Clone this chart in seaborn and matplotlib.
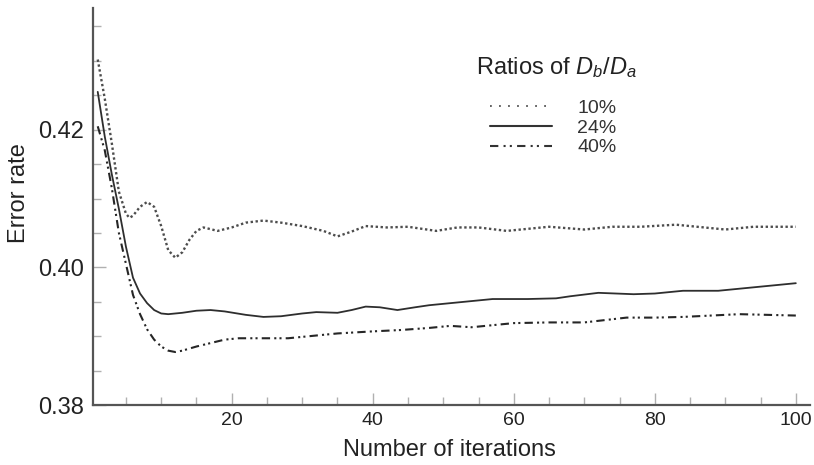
import matplotlib
matplotlib.use("Agg")
import matplotlib.pyplot as plt
from matplotlib.lines import Line2D
from matplotlib.ticker import MultipleLocator
import seaborn as sns
import pandas as pd

# Error rate against number of iterations for three ratios of D_b/D_a
iter_10 = [1, 2, 3, 4, 5, 5.5, 6, 7, 8, 9, 10, 11, 12, 13, 14, 15, 16, 18, 20, 22,
           24.5, 27, 30, 33, 35, 37, 39, 42, 45, 49, 52, 55, 59, 62, 65, 70, 74,
           78, 83, 87, 90, 94, 100]
err_10 = [0.4302, 0.4245, 0.4180, 0.4110, 0.4078, 0.4072, 0.4075, 0.4088, 0.4095,
          0.4088, 0.4060, 0.4025, 0.4014, 0.4022, 0.4040, 0.4053, 0.4058, 0.4053,
          0.4058, 0.4065, 0.4068, 0.4065, 0.4060, 0.4053, 0.4045, 0.4052, 0.4060,
          0.4058, 0.4059, 0.4053, 0.4058, 0.4058, 0.4053, 0.4056, 0.4059, 0.4055,
          0.4059, 0.4059, 0.4062, 0.4058, 0.4055, 0.4059, 0.4059]

iter_24 = [1, 2, 3, 4, 5, 6, 7, 8, 9, 10, 11, 13, 15, 17, 19, 22, 24.5, 27, 30, 32,
           35, 37, 39, 41, 43.5, 46, 48, 52, 57, 62, 66, 68, 72, 77, 80, 84, 89,
           94, 100]
err_24 = [0.4255, 0.4190, 0.4135, 0.4085, 0.4030, 0.3985, 0.3962, 0.3948, 0.3938,
          0.3933, 0.3932, 0.3934, 0.3937, 0.3938, 0.3936, 0.3931, 0.3928, 0.3929,
          0.3933, 0.3935, 0.3934, 0.3938, 0.3943, 0.3942, 0.3938, 0.3942, 0.3945,
          0.3949, 0.3954, 0.3954, 0.3955, 0.3958, 0.3963, 0.3961, 0.3962, 0.3966,
          0.3966, 0.3971, 0.3977]

iter_40 = [1, 2, 3, 4, 5, 6, 7, 8, 9, 10, 11, 12, 13, 15, 17, 19, 21, 25, 28, 31,
           35, 40, 44, 48, 51, 54, 60, 65, 70, 76, 80, 84, 88, 92, 100]
err_40 = [0.4205, 0.4170, 0.4115, 0.4050, 0.4005, 0.3960, 0.3932, 0.3910, 0.3895,
          0.3885, 0.3879, 0.3877, 0.3879, 0.3885, 0.3890, 0.3895, 0.3897, 0.3897,
          0.3897, 0.3900, 0.3904, 0.3907, 0.3909, 0.3912, 0.3915, 0.3913, 0.3919,
          0.3920, 0.3920, 0.3927, 0.3927, 0.3928, 0.3930, 0.3932, 0.3930]

labels = ["10%", "24%", "40%"]

sns.set_theme(style="ticks")
plt.rcParams["font.family"] = ["Liberation Sans", "DejaVu Sans"]
plt.rcParams["mathtext.fontset"] = "custom"
plt.rcParams["mathtext.it"] = "Liberation Sans:italic"
plt.rcParams["mathtext.rm"] = "Liberation Sans"

fig = plt.figure(figsize=(8.14, 4.65), dpi=100)
ax = fig.add_axes([0.114, 0.129, 0.881, 0.854])

series = [
    (iter_10, err_10, labels[0], dict(color="#4d4d4d", lw=1.7, linestyle=(0, (1, 1.1)))),
    (iter_24, err_24, labels[1], dict(color="#2e2e2e", lw=1.3, linestyle="-")),
    (iter_40, err_40, labels[2], dict(color="#262626", lw=1.5,
                                      linestyle=(0, (4, 2, 1, 1.5, 1, 2)))),
]
for xs, ys, lab, style in series:
    df = pd.DataFrame({"iteration": xs, "error": ys})
    sns.lineplot(data=df, x="iteration", y="error", ax=ax, legend=False, **style)

ax.set_xlim(0.3, 102)
ax.set_ylim(0.38, 0.4377)
ax.xaxis.set_major_locator(MultipleLocator(20))
ax.xaxis.set_minor_locator(MultipleLocator(5))
ax.yaxis.set_major_locator(MultipleLocator(0.02))
ax.yaxis.set_minor_locator(MultipleLocator(0.005))
ax.set_xticks([20, 40, 60, 80, 100])
ax.set_yticks([0.38, 0.40, 0.42])
ax.set_yticklabels(["0.38", "0.40", "0.42"])

for t in ax.get_xticklabels():
    t.set_fontsize(14)
    t.set_color("#222222")
for t in ax.get_yticklabels():
    t.set_fontsize(17)
    t.set_color("#222222")

ax.tick_params(axis="both", which="both", direction="in", color="#b0b0b0")
ax.tick_params(axis="both", which="major", length=9, width=1)
ax.tick_params(axis="both", which="minor", length=6, width=1)
ax.tick_params(axis="x", pad=5)
ax.tick_params(axis="y", pad=6)

for side in ("top", "right"):
    ax.spines[side].set_visible(False)
for side in ("left", "bottom"):
    ax.spines[side].set_color("#555555")
    ax.spines[side].set_linewidth(1.6)

ax.set_xlabel("Number of iterations", fontsize=17, color="#222222")
ax.xaxis.set_label_coords(0.497, -0.086)
ax.set_ylabel("Error rate", fontsize=17, color="#222222")
ax.yaxis.set_label_coords(-0.088, 0.534)

# Legend: title drawn as text, entries with their own handles
fig.text(476 / 814, 1 - 74 / 465, r"Ratios of $D_b$/$D_a$", fontsize=17,
         color="#222222", ha="left", va="baseline")
handles = [
    Line2D([], [], color="#555555", lw=1.3, linestyle=(0, (1, 4))),
    Line2D([], [], color="#333333", lw=1.5, linestyle="-"),
    Line2D([], [], color="#333333", lw=1.5, linestyle=(0, (4, 2.5, 1, 2, 1, 2.5))),
]
leg = fig.legend(handles, labels, frameon=False, loc="upper left",
                 bbox_to_anchor=(490 / 814, 1 - 99 / 465), fontsize=14,
                 handlelength=3.2, handletextpad=1.3, labelspacing=0.12,
                 borderpad=0, borderaxespad=0)
for t in leg.get_texts():
    t.set_color("#333333")

fig.savefig("out.png", dpi=100)
